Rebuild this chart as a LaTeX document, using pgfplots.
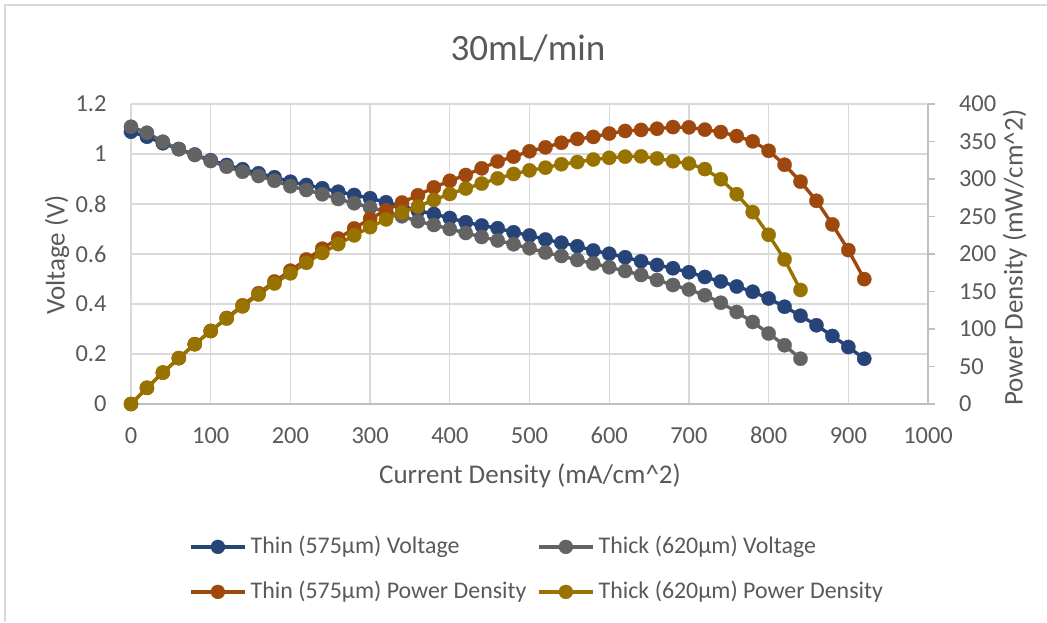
\documentclass[border=0pt]{standalone}
\usepackage{pgfplots}
\pgfplotsset{compat=1.18}
\usepackage{fontspec}
\setmainfont{Carlito}
\definecolor{cThinV}{HTML}{264478}
\definecolor{cThickV}{HTML}{636363}
\definecolor{cThinP}{HTML}{9E480E}
\definecolor{cThickP}{HTML}{997300}
\definecolor{txt}{HTML}{595959}
\definecolor{gridc}{HTML}{D9D9D9}
\definecolor{axisc}{HTML}{BFBFBF}
\pgfplotsset{
  common/.style={
    at={(50.435pt,83.93pt)}, anchor=south west,
    scale only axis, width=306.845pt, height=115.5pt,
    xmin=0, xmax=1000, clip=false,
    tick label style={font=\fontsize{9.4}{11}\selectfont, text=txt},
    label style={font=\fontsize{10.4}{12}\selectfont, text=txt},
    /pgf/number format/assume math mode=true,
    /pgf/number format/set thousands separator={},
  },
  sThinV/.style={color=cThinV, line width=1.3pt, mark=*, mark size=2.75pt, mark options={solid, fill=cThinV, draw=cThinV, line width=0.1pt}},
  sThickV/.style={color=cThickV, line width=1.3pt, mark=*, mark size=2.75pt, mark options={solid, fill=cThickV, draw=cThickV, line width=0.1pt}},
  sThinP/.style={color=cThinP, line width=1.3pt, mark=*, mark size=2.75pt, mark options={solid, fill=cThinP, draw=cThinP, line width=0.1pt}},
  sThickP/.style={color=cThickP, line width=1.3pt, mark=*, mark size=2.75pt, mark options={solid, fill=cThickP, draw=cThickP, line width=0.1pt}},
}
\begin{document}
\begin{tikzpicture}
\begin{scope}[x=0.385pt,y=0.385pt]
\path[use as bounding box] (0,0) rectangle (1047,622);
\draw[gridc, line width=0.5pt] (5,0) -- (5,617) -- (1047,617);
\node[text=txt, font=\fontsize{14.3}{16}\selectfont] at (528,574) {30mL/min};
\end{scope}

\begin{axis}[common,
  ymin=0, ymax=1.2,
  axis x line*=bottom, axis y line*=left,
  x axis line style={draw=axisc, line width=0.6pt, -},
  y axis line style={draw=none},
  xtick={0,100,200,300,400,500,600,700,800,900,1000},
  xticklabels={0,100,200,300,400,500,600,700,800,900,1000},
  ytick={0,0.2,0.4,0.6,0.8,1,1.2},
  yticklabels={0,0.2,0.4,0.6,0.8,1,1.2},
  major tick length=0pt,
  xmajorgrids, ymajorgrids,
  grid style={draw=gridc, line width=0.5pt},
  xticklabel style={anchor=base, yshift=-15.4pt},
  yticklabel style={anchor=east, xshift=-5.9pt},
  xlabel={Current Density (mA/cm\textasciicircum 2)},
  xlabel style={at={(axis description cs:0.5006,-0.24)}, anchor=center},
  ylabel={Voltage (V)},
  ylabel style={at={(axis description cs:-0.0928,0.497)}, anchor=center},
]
\addplot[sThinV] coordinates {(0,1.089)(20,1.069)(40,1.043)(60,1.020)(80,0.998)(100,0.975)(120,0.956)(140,0.939)(160,0.923)(180,0.907)(200,0.889)(220,0.876)(240,0.863)(260,0.849)(280,0.836)(300,0.823)(320,0.807)(340,0.790)(360,0.773)(380,0.760)(400,0.744)(420,0.727)(440,0.714)(460,0.703)(480,0.687)(500,0.674)(520,0.658)(540,0.645)(560,0.631)(580,0.614)(600,0.601)(620,0.587)(640,0.571)(660,0.556)(680,0.543)(700,0.527)(720,0.508)(740,0.490)(760,0.470)(780,0.449)(800,0.422)(820,0.389)(840,0.353)(860,0.315)(880,0.272)(900,0.228)(920,0.181)};
\addplot[sThickV] coordinates {(0,1.109)(20,1.085)(40,1.049)(60,1.019)(80,0.996)(100,0.972)(120,0.949)(140,0.929)(160,0.912)(180,0.893)(200,0.871)(220,0.856)(240,0.839)(260,0.820)(280,0.803)(300,0.786)(320,0.769)(340,0.751)(360,0.731)(380,0.716)(400,0.700)(420,0.684)(440,0.668)(460,0.654)(480,0.639)(500,0.623)(520,0.606)(540,0.592)(560,0.576)(580,0.562)(600,0.547)(620,0.532)(640,0.516)(660,0.496)(680,0.476)(700,0.458)(720,0.435)(740,0.405)(760,0.368)(780,0.328)(800,0.282)(820,0.235)(840,0.181)};
\end{axis}

\begin{axis}[common,
  ymin=0, ymax=400,
  axis y line*=right, axis x line=none,
  y axis line style={draw=axisc, line width=0.6pt, -},
  xtick=\empty,
  ytick={0,50,100,150,200,250,300,350,400},
  ytick style={draw=axisc, line width=0.6pt},
  tick align=outside, major tick length=2.7pt,
  yticklabel style={anchor=west, xshift=5.7pt},
  ylabel={Power Density (mW/cm\textasciicircum 2)},
  ylabel style={at={(axis description cs:1.109,0.487)}, anchor=center},
  legend columns=2,
  legend cell align=left,
  legend style={at={(axis description cs:0.073,-0.432)}, anchor=north west,
    draw=none, fill=none, inner sep=0pt, outer sep=0pt,
    font=\fontsize{9.2}{11}\selectfont, text=txt,
    nodes={inner ysep=1pt, inner xsep=1.6pt},
    /tikz/row sep=7.1pt,
    /tikz/every even column/.append style={column sep=2.5pt}},
  legend image code/.code={\draw[#1, mark repeat=2, mark phase=2, mark size=2.7pt] plot coordinates {(0pt,0pt) (10.4pt,0pt) (20.8pt,0pt)};},
]
\addlegendimage{sThinV}
\addlegendentry{Thin (575µm) Voltage}
\addlegendimage{sThickV}
\addlegendentry{Thick (620µm) Voltage}
\addplot[sThinP] coordinates {(0,0)(20,21.4)(40,41.7)(60,61.2)(80,79.8)(100,97.5)(120,114.7)(140,131.5)(160,147.7)(180,163.3)(200,177.8)(220,192.7)(240,207.1)(260,220.7)(280,234.1)(300,246.9)(320,258.2)(340,268.6)(360,278.3)(380,288.8)(400,297.6)(420,305.3)(440,314.2)(460,323.4)(480,329.8)(500,337.0)(520,342.2)(540,348.3)(560,353.4)(580,356.1)(600,360.6)(620,364.0)(640,365.4)(660,367.0)(680,369.2)(700,368.9)(720,365.8)(740,362.6)(760,357.2)(780,350.2)(800,337.6)(820,319.0)(840,296.5)(860,270.9)(880,239.4)(900,205.2)(920,166.5)};
\addlegendentry{Thin (575µm) Power Density}
\addplot[sThickP] coordinates {(0,0)(20,21.7)(40,42.0)(60,61.1)(80,79.7)(100,97.2)(120,113.9)(140,130.1)(160,145.9)(180,160.7)(200,174.2)(220,188.3)(240,201.4)(260,213.2)(280,224.8)(300,235.8)(320,246.1)(340,255.3)(360,263.2)(380,272.1)(400,280.0)(420,287.3)(440,293.9)(460,300.8)(480,306.7)(500,311.5)(520,315.1)(540,319.7)(560,322.6)(580,326.0)(600,328.2)(620,329.8)(640,330.2)(660,327.4)(680,323.7)(700,320.6)(720,313.2)(740,299.7)(760,279.7)(780,255.8)(800,225.6)(820,192.7)(840,152.0)};
\addlegendentry{Thick (620µm) Power Density}
\end{axis}
\end{tikzpicture}
\end{document}
